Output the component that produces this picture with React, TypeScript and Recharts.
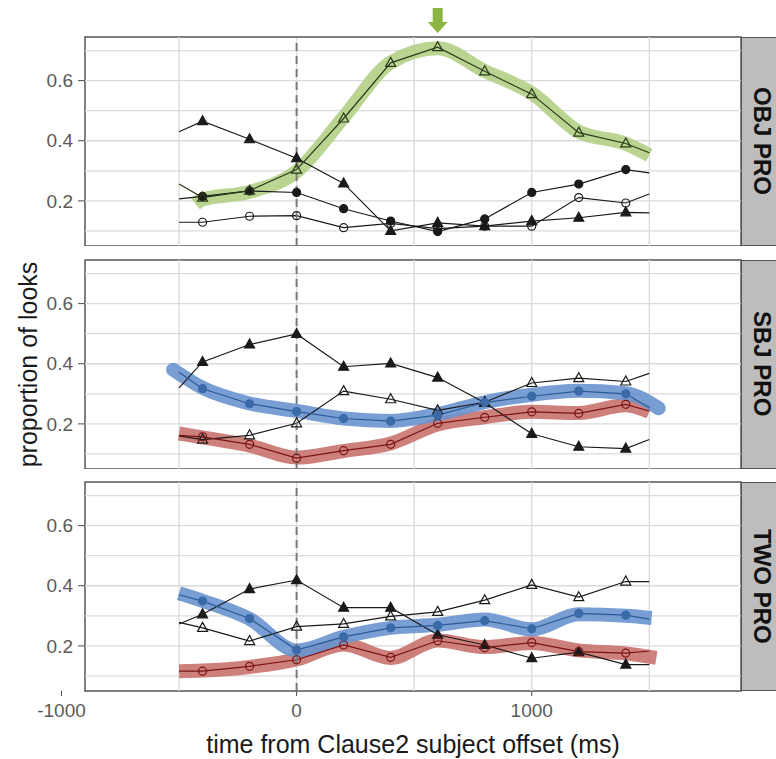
import { Line, LineChart, ReferenceArea, ReferenceDot, ReferenceLine, XAxis, YAxis } from "recharts"

const FONT = "'Liberation Sans', Arial, sans-serif"

const TIMES = [-500, -400, -200, 0, 200, 400, 600, 800, 1000, 1200, 1400, 1500]
const MARKER_TIMES = [-400, -200, 0, 200, 400, 600, 800, 1000, 1200, 1400]
const X_TICKS = [-1000, 0, 1000]
const X_GRID = [-500, 0, 500, 1000, 1500]
const Y_TICKS = [0.2, 0.4, 0.6]
const Y_GRID = [0.1, 0.2, 0.3, 0.4, 0.5, 0.6, 0.7]
const X_DOMAIN = [-900, 1890]
const Y_DOMAIN = [0.05, 0.745]
const PEAK_TIME = 600

// OBJ PRO
const objFilledTri = [0.43, 0.465, 0.405, 0.342, 0.258, 0.1, 0.127, 0.116, 0.133, 0.144, 0.162, 0.16]
const objOpenTri = [0.256, 0.211, 0.234, 0.304, 0.474, 0.659, 0.711, 0.631, 0.555, 0.427, 0.391, 0.36]
const objFilledCirc = [0.207, 0.215, 0.233, 0.228, 0.174, 0.133, 0.098, 0.14, 0.228, 0.256, 0.304, 0.293]
const objOpenCirc = [0.129, 0.129, 0.149, 0.151, 0.111, 0.125, 0.108, 0.116, 0.116, 0.211, 0.193, 0.223]
const objGreenTimes = [-430, -400, -200, 0, 200, 400, 600, 800, 1000, 1200, 1400, 1500]
const objGreenBand = [0.19, 0.205, 0.23, 0.298, 0.478, 0.66, 0.708, 0.632, 0.558, 0.43, 0.39, 0.352]

// SBJ PRO
const sbjFilledTri = [0.32, 0.406, 0.464, 0.499, 0.39, 0.401, 0.354, 0.27, 0.167, 0.124, 0.118, 0.148]
const sbjOpenTri = [0.16, 0.148, 0.162, 0.202, 0.309, 0.282, 0.245, 0.272, 0.336, 0.352, 0.341, 0.368]
const sbjBlue = [0.372, 0.317, 0.267, 0.241, 0.218, 0.209, 0.229, 0.271, 0.292, 0.309, 0.3, 0.254]
const sbjRed = [0.162, 0.157, 0.132, 0.086, 0.111, 0.132, 0.202, 0.222, 0.24, 0.235, 0.265, 0.243]
const sbjBlueTimes = [-525, -400, -200, 0, 200, 400, 600, 800, 1000, 1200, 1400, 1540]
const sbjBlueBand = [0.38, 0.32, 0.268, 0.243, 0.218, 0.21, 0.232, 0.272, 0.297, 0.31, 0.302, 0.252]
const sbjRedTimes = [-500, -400, -200, 0, 200, 400, 600, 800, 1000, 1200, 1400, 1500]
const sbjRedBand = [0.168, 0.155, 0.128, 0.088, 0.11, 0.135, 0.198, 0.222, 0.24, 0.236, 0.262, 0.24]

// TWO PRO
const twoFilledTri = [0.273, 0.305, 0.389, 0.419, 0.327, 0.327, 0.237, 0.203, 0.159, 0.179, 0.138, 0.138]
const twoOpenTri = [0.278, 0.26, 0.216, 0.264, 0.273, 0.298, 0.313, 0.352, 0.403, 0.362, 0.414, 0.414]
const twoBlue = [0.37, 0.349, 0.291, 0.186, 0.23, 0.26, 0.268, 0.284, 0.257, 0.308, 0.302, 0.289]
const twoRed = [0.116, 0.116, 0.132, 0.154, 0.203, 0.162, 0.217, 0.194, 0.211, 0.181, 0.176, 0.183]
const twoBlueTimes = [-500, -400, -200, 0, 200, 400, 600, 800, 1000, 1200, 1400, 1510]
const twoBlueBand = [0.375, 0.35, 0.29, 0.185, 0.23, 0.26, 0.27, 0.288, 0.255, 0.305, 0.3, 0.293]
const twoRedTimes = [-500, -400, -200, 0, 200, 400, 600, 800, 1000, 1200, 1400, 1530]
const twoRedBand = [0.116, 0.118, 0.13, 0.155, 0.205, 0.16, 0.218, 0.196, 0.21, 0.185, 0.175, 0.16]

type Kind = "triFilled" | "triOpen" | "circFilled" | "circOpen"

interface Series {
  values: number[]
  kind: Kind
  color: string
  markerColor?: string
}

interface Band {
  times: number[]
  values: number[]
  color: string
  cap: "butt" | "round"
}

interface Panel {
  label: string
  series: Series[]
  bands: Band[]
}

const GREEN = "#b3cf86"
const BLUE = "#6994cf"
const RED = "#c9726f"

const panels: Panel[] = [
  {
    label: "OBJ PRO",
    bands: [{ times: objGreenTimes, values: objGreenBand, color: GREEN, cap: "butt" }],
    series: [
      { values: objFilledTri, kind: "triFilled", color: "#1a1a1a" },
      { values: objFilledCirc, kind: "circFilled", color: "#1a1a1a" },
      { values: objOpenCirc, kind: "circOpen", color: "#1a1a1a" },
      { values: objOpenTri, kind: "triOpen", color: "#2b3a1a" },
    ],
  },
  {
    label: "SBJ PRO",
    bands: [
      { times: sbjRedTimes, values: sbjRedBand, color: RED, cap: "butt" },
      { times: sbjBlueTimes, values: sbjBlueBand, color: BLUE, cap: "round" },
    ],
    series: [
      { values: sbjFilledTri, kind: "triFilled", color: "#1a1a1a" },
      { values: sbjOpenTri, kind: "triOpen", color: "#1a1a1a" },
      { values: sbjRed, kind: "circOpen", color: "#7a1414" },
      { values: sbjBlue, kind: "circFilled", color: "#2c5a96", markerColor: "#3a6aa8" },
    ],
  },
  {
    label: "TWO PRO",
    bands: [
      { times: twoRedTimes, values: twoRedBand, color: RED, cap: "butt" },
      { times: twoBlueTimes, values: twoBlueBand, color: BLUE, cap: "butt" },
    ],
    series: [
      { values: twoFilledTri, kind: "triFilled", color: "#1a1a1a" },
      { values: twoOpenTri, kind: "triOpen", color: "#1a1a1a" },
      { values: twoRed, kind: "circOpen", color: "#7a1414" },
      { values: twoBlue, kind: "circFilled", color: "#2c5a96", markerColor: "#3a6aa8" },
    ],
  },
]

const toRows = (times: number[], values: number[]) => times.map((t, i) => ({ t, v: values[i] }))

function makeDot(kind: Kind, color: string) {
  return (props: any) => {
    const { cx, cy, payload, index } = props
    if (!MARKER_TIMES.includes(payload.t) || cx == null || cy == null) return <g key={index} />
    if (kind === "triFilled" || kind === "triOpen") {
      const d = `M${cx},${cy - 5.5} L${cx + 5},${cy + 3.5} L${cx - 5},${cy + 3.5} Z`
      return (
        <path
          key={index}
          d={d}
          fill={kind === "triFilled" ? color : "none"}
          stroke={color}
          strokeWidth={1.2}
        />
      )
    }
    return (
      <circle
        key={index}
        cx={cx}
        cy={cy}
        r={4}
        fill={kind === "circFilled" ? color : "none"}
        stroke={color}
        strokeWidth={1.2}
      />
    )
  }
}

const PLOT_LEFT = 85
const PLOT_RIGHT = 741
const PANEL_TOPS = [37, 259.5, 482]
const PANEL_H = 209
const STRIP_W = 42

const tickStyle = { fill: "#5a5a5a", fontSize: 19, fontFamily: FONT }

const YTitle = (props: any) => {
  const vb = props.viewBox
  const cx = 28
  const cy = vb.y + vb.height / 2
  return (
    <text
      x={cx}
      y={cy}
      transform={`rotate(-90 ${cx} ${cy})`}
      textAnchor="middle"
      dominantBaseline="central"
      fontSize={25}
      fontFamily={FONT}
      fill="#1a1a1a"
    >
      proportion of looks
    </text>
  )
}

const XTitle = (props: any) => {
  const vb = props.viewBox
  return (
    <text
      x={vb.x + vb.width / 2}
      y={vb.y + 53}
      textAnchor="middle"
      dominantBaseline="central"
      fontSize={25}
      fontFamily={FONT}
      fill="#1a1a1a"
    >
      time from Clause2 subject offset (ms)
    </text>
  )
}

const Arrow = (props: any) => {
  const { cx, cy } = props
  const d = `M${cx - 5},${cy - 29} L${cx + 5},${cy - 29} L${cx + 5},${cy - 15} L${cx + 10},${cy - 15} L${cx},${cy - 4} L${cx - 10},${cy - 15} L${cx - 5},${cy - 15} Z`
  return <path d={d} fill="#8db543" />
}

function PanelChart({ panel, index }: { panel: Panel; index: number }) {
  const isLast = index === panels.length - 1
  const chartTop = index === 0 ? 0 : PANEL_TOPS[index] - 13
  const marginTop = PANEL_TOPS[index] - chartTop
  const xAxisH = 68
  const height = marginTop + PANEL_H + (isLast ? xAxisH : 0)
  return (
    <div style={{ position: "absolute", left: 0, top: chartTop }}>
      <LineChart
        width={PLOT_RIGHT + STRIP_W}
        height={height}
        margin={{ top: marginTop, right: STRIP_W, bottom: 0, left: 0 }}
      >
        <XAxis
          dataKey="t"
          type="number"
          domain={X_DOMAIN}
          allowDataOverflow
          ticks={X_TICKS}
          interval={0}
          hide={!isLast}
          height={xAxisH}
          axisLine={false}
          tickSize={5}
          tickMargin={8}
          tickLine={{ stroke: "#4d4d4d" }}
          tick={tickStyle}
          label={isLast ? <XTitle /> : undefined}
        />
        <YAxis
          type="number"
          domain={Y_DOMAIN}
          allowDataOverflow
          ticks={Y_TICKS}
          interval={0}
          width={PLOT_LEFT}
          axisLine={false}
          tickSize={7}
          tickMargin={5}
          tickLine={{ stroke: "#4d4d4d" }}
          tick={tickStyle}
          tickFormatter={(v: number) => v.toFixed(1)}
          label={index === 1 ? <YTitle /> : undefined}
        />
        {Y_GRID.map((y) => (
          <ReferenceLine key={`h${y}`} y={y} stroke="#dadada" strokeWidth={1.3} />
        ))}
        {X_GRID.map((x) => (
          <ReferenceLine key={`v${x}`} x={x} stroke="#dadada" strokeWidth={1.3} />
        ))}
        {panel.bands.map((b, i) => (
          <Line
            key={`band${i}`}
            data={toRows(b.times, b.values)}
            dataKey="v"
            type="monotone"
            stroke={b.color}
            strokeWidth={14}
            strokeLinecap={b.cap}
            strokeOpacity={0.9}
            dot={false}
            activeDot={false}
            isAnimationActive={false}
          />
        ))}
        {panel.series.map((s, i) => (
          <Line
            key={`s${i}`}
            data={toRows(TIMES, s.values)}
            dataKey="v"
            type="linear"
            stroke={s.color}
            strokeWidth={1.2}
            dot={makeDot(s.kind, s.markerColor ?? s.color)}
            activeDot={false}
            isAnimationActive={false}
          />
        ))}
        <ReferenceLine x={0} stroke="#7a7a7a" strokeWidth={2} strokeDasharray="8 5" />
        <ReferenceArea
          x1={X_DOMAIN[0]}
          x2={X_DOMAIN[1]}
          y1={Y_DOMAIN[0]}
          y2={Y_DOMAIN[1]}
          fill="none"
          stroke="#555"
          strokeWidth={1.5}
          ifOverflow="visible"
        />
        {index === 0 && (
          <ReferenceDot x={PEAK_TIME} y={Y_DOMAIN[1]} ifOverflow="visible" shape={<Arrow />} />
        )}
      </LineChart>
    </div>
  )
}

export default function App() {
  return (
    <div
      style={{
        position: "absolute",
        left: 0,
        top: 0,
        width: 776,
        height: 759,
        overflow: "hidden",
        background: "#fff",
      }}
    >
      {panels.map((p, i) => (
        <PanelChart key={p.label} panel={p} index={i} />
      ))}
      {panels.map((p, i) => (
        <div
          key={`strip${i}`}
          style={{
            position: "absolute",
            left: PLOT_RIGHT,
            top: PANEL_TOPS[i],
            width: STRIP_W,
            height: PANEL_H,
            boxSizing: "border-box",
            background: "#bdbdbd",
            border: "1.5px solid #555",
            display: "flex",
            alignItems: "center",
            justifyContent: "center",
          }}
        >
          <span
            style={{
              writingMode: "vertical-rl",
              fontFamily: FONT,
              fontWeight: 700,
              fontSize: 24,
              color: "#111",
            }}
          >
            {p.label}
          </span>
        </div>
      ))}
    </div>
  )
}
